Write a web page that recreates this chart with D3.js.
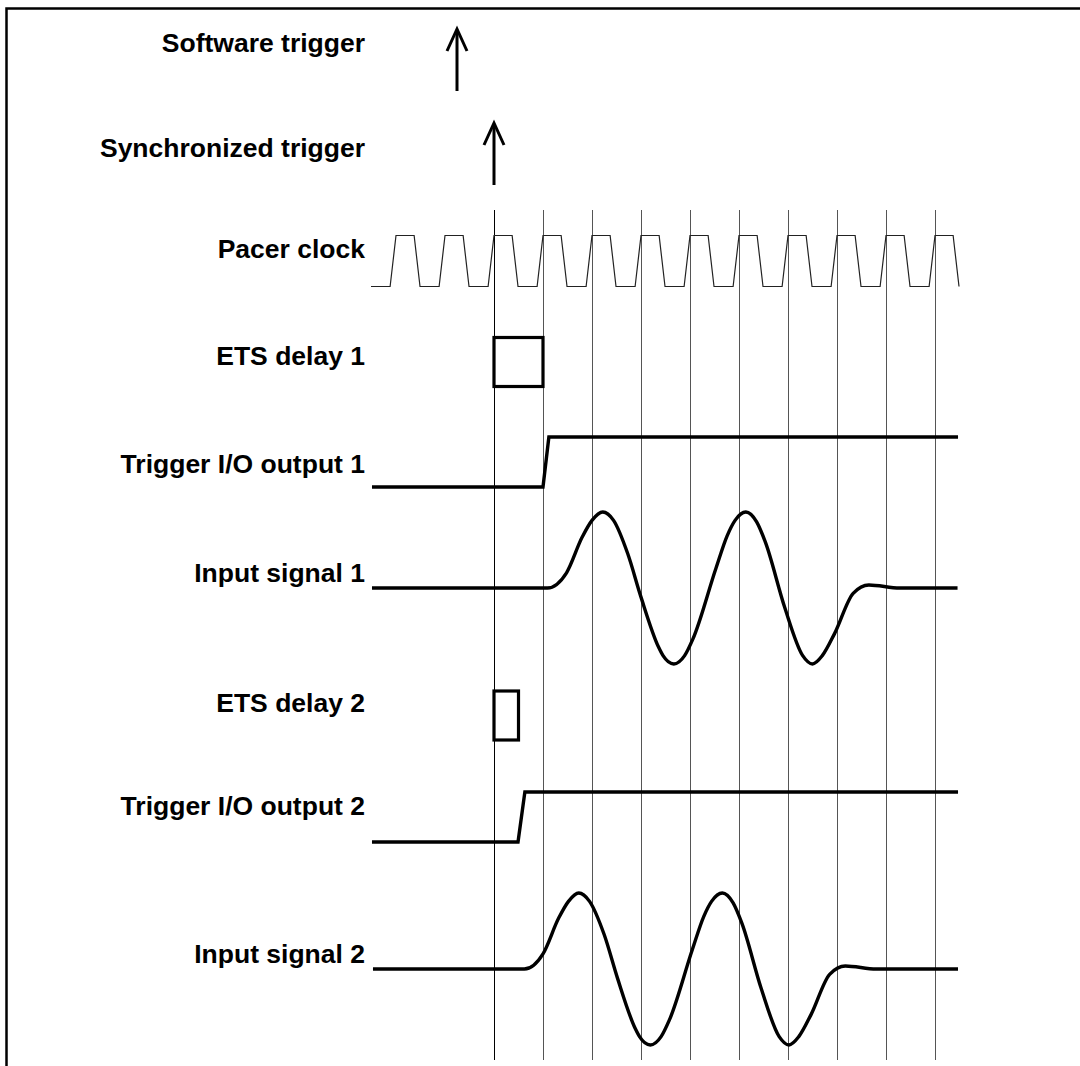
<!DOCTYPE html>
<html>
<head>
<meta charset="utf-8">
<script src="https://cdnjs.cloudflare.com/ajax/libs/d3/7.8.5/d3.min.js"></script>
<style>
    body { margin: 0; background: #fff; }
    #chart-area { width: 1080px; height: 1066px; overflow: hidden; }
    #chart-area svg { display: block; }
    .label { font-family: "Liberation Sans", Arial, sans-serif; font-weight: bold; font-size: 26.5px; fill: #000; }
</style>
</head>
<body>
<div id="chart-area"></div>
<script>
// time unit = one pacer clock period, 0 = synchronized trigger
var labels = ["Software trigger", "Synchronized trigger", "Pacer clock", "ETS delay 1",
    "Trigger I/O output 1", "Input signal 1", "ETS delay 2", "Trigger I/O output 2", "Input signal 2"];

var gridTimes = [0, 1, 2, 3, 4, 5, 6, 7, 8, 9];
var clockRises = [-2, -1, 0, 1, 2, 3, 4, 5, 6, 7, 8, 9];
var clockStart = -2.51;
// one clock edge: [phase, level]
var clockEdge = [[-0.12, 0], [0, 1], [0.37, 1], [0.49, 0]];

var softwareTrigger = -0.755;
var syncTrigger = 0;

var etsDelay1 = [0, 1];
var etsDelay2 = [0, 0.5];

var trigOut1 = [[-2.49, 0], [1.0, 0], [1.12, 1], [9.47, 1]];
var trigOut2 = [[-2.49, 0], [0.49, 0], [0.63, 1], [9.47, 1]];

var input1 = [[-2.49, 0], [1.09, 0], [1.48, 0.2], [1.8, 0.67], [2.0, 0.89], [2.22, 1],
    [2.44, 0.89], [2.73, 0.45], [3.0, -0.12], [3.36, -0.78], [3.45, -0.89], [3.67, -1],
    [3.89, -0.89], [4.06, -0.67], [4.53, 0.26], [4.76, 0.69], [4.92, 0.89], [5.14, 1],
    [5.36, 0.87], [5.54, 0.6], [5.93, -0.25], [6.3, -0.89], [6.5, -1], [6.7, -0.89],
    [6.95, -0.6], [7.33, -0.07], [7.65, 0.04], [8.28, 0], [9.46, 0]];

var input2 = [[-2.47, 0], [0.62, 0], [1.0, 0.2], [1.32, 0.67], [1.52, 0.89], [1.73, 1],
    [1.95, 0.89], [2.25, 0.45], [2.52, -0.12], [2.88, -0.78], [2.97, -0.89], [3.19, -1],
    [3.41, -0.89], [3.58, -0.67], [4.05, 0.26], [4.28, 0.69], [4.44, 0.89], [4.66, 1],
    [4.88, 0.87], [5.06, 0.6], [5.45, -0.25], [5.82, -0.89], [6.02, -1], [6.22, -0.89],
    [6.47, -0.6], [6.85, -0.07], [7.17, 0.04], [7.8, 0], [9.47, 0]];

TimingChart = function(_parentElement) {
    this.parentElement = _parentElement;
    this.initVis();
};

TimingChart.prototype.initVis = function() {
    var vis = this;

    vis.width = 1080;
    vis.height = 1066;

    vis.svg = d3.select("#" + vis.parentElement)
        .append("svg")
        .attr("width", vis.width)
        .attr("height", vis.height);

    vis.x = d3.scaleLinear().domain([0, 9]).range([494, 935]);

    // row layouts
    vis.labelY = [52, 157, 258, 365, 473, 582, 712, 815, 963];
    vis.clockY = d3.scaleLinear().domain([0, 1]).range([286, 235]);
    vis.out1Y = d3.scaleLinear().domain([0, 1]).range([487, 437]);
    vis.out2Y = d3.scaleLinear().domain([0, 1]).range([842, 792]);
    vis.in1Y = d3.scaleLinear().domain([-1, 1]).range([664, 512]);
    vis.in2Y = d3.scaleLinear().domain([-1, 1]).range([1045, 893]);

    vis.updateVis();
};

TimingChart.prototype.updateVis = function() {
    var vis = this;

    // frame
    vis.svg.append("rect")
        .attr("x", 6.5).attr("y", 8.5)
        .attr("width", 1200).attr("height", 1200)
        .attr("fill", "none").attr("stroke", "#000").attr("stroke-width", 2.5);

    // grid lines at clock rising edges
    vis.svg.selectAll(".grid")
        .data(gridTimes)
        .enter().append("line")
        .attr("class", "grid")
        .attr("x1", function(d) { return vis.x(d) + 0.5; })
        .attr("x2", function(d) { return vis.x(d) + 0.5; })
        .attr("y1", 210).attr("y2", 1060)
        .attr("stroke", function(d, i) { return i === 0 ? "#000" : "#555"; })
        .attr("stroke-width", 1);

    vis.svg.selectAll(".label")
        .data(labels)
        .enter().append("text")
        .attr("class", "label")
        .attr("x", 365)
        .attr("y", function(d, i) { return vis.labelY[i]; })
        .attr("text-anchor", "end")
        .text(function(d) { return d; });

    // arrows
    function arrow(t, y1, y2) {
        var x = vis.x(t);
        vis.svg.append("line")
            .attr("x1", x).attr("x2", x).attr("y1", y1 + 2).attr("y2", y2)
            .attr("stroke", "#000").attr("stroke-width", 3);
        vis.svg.append("path")
            .attr("d", "M" + (x - 10) + "," + (y1 + 22) + "L" + x + "," + y1 + "L" + (x + 10) + "," + (y1 + 22))
            .attr("fill", "none").attr("stroke", "#000").attr("stroke-width", 3)
            .attr("stroke-linejoin", "miter");
    }
    arrow(softwareTrigger, 29, 91);
    arrow(syncTrigger, 123, 185);

    // pacer clock
    var clockPts = [[clockStart, 0]];
    clockRises.forEach(function(g) {
        clockEdge.forEach(function(e) { clockPts.push([g + e[0], e[1]]); });
    });
    vis.svg.append("path")
        .datum(clockPts)
        .attr("d", d3.line()
            .x(function(d) { return vis.x(d[0]); })
            .y(function(d) { return vis.clockY(d[1]) + 0.5; }))
        .attr("fill", "none").attr("stroke", "#222").attr("stroke-width", 1.2);

    // ETS delay boxes
    vis.svg.append("rect")
        .attr("x", vis.x(etsDelay1[0])).attr("y", 337.5)
        .attr("width", vis.x(etsDelay1[1]) - vis.x(etsDelay1[0])).attr("height", 49)
        .attr("fill", "none").attr("stroke", "#000").attr("stroke-width", 3.2);
    vis.svg.append("rect")
        .attr("x", vis.x(etsDelay2[0])).attr("y", 691)
        .attr("width", vis.x(etsDelay2[1]) - vis.x(etsDelay2[0])).attr("height", 49)
        .attr("fill", "none").attr("stroke", "#000").attr("stroke-width", 3.2);

    // trigger outputs
    function step(data, yScale) {
        vis.svg.append("path")
            .datum(data)
            .attr("d", d3.line()
                .x(function(d) { return vis.x(d[0]); })
                .y(function(d) { return yScale(d[1]); }))
            .attr("fill", "none").attr("stroke", "#000").attr("stroke-width", 3.4)
            .attr("stroke-linejoin", "miter");
    }
    step(trigOut1, vis.out1Y);
    step(trigOut2, vis.out2Y);

    // input signals
    function wave(data, yScale) {
        vis.svg.append("path")
            .datum(data)
            .attr("d", d3.line()
                .curve(d3.curveMonotoneX)
                .x(function(d) { return vis.x(d[0]); })
                .y(function(d) { return yScale(d[1]); }))
            .attr("fill", "none").attr("stroke", "#000").attr("stroke-width", 3.4);
    }
    wave(input1, vis.in1Y);
    wave(input2, vis.in2Y);
};

new TimingChart("chart-area");
</script>
</body>
</html>
